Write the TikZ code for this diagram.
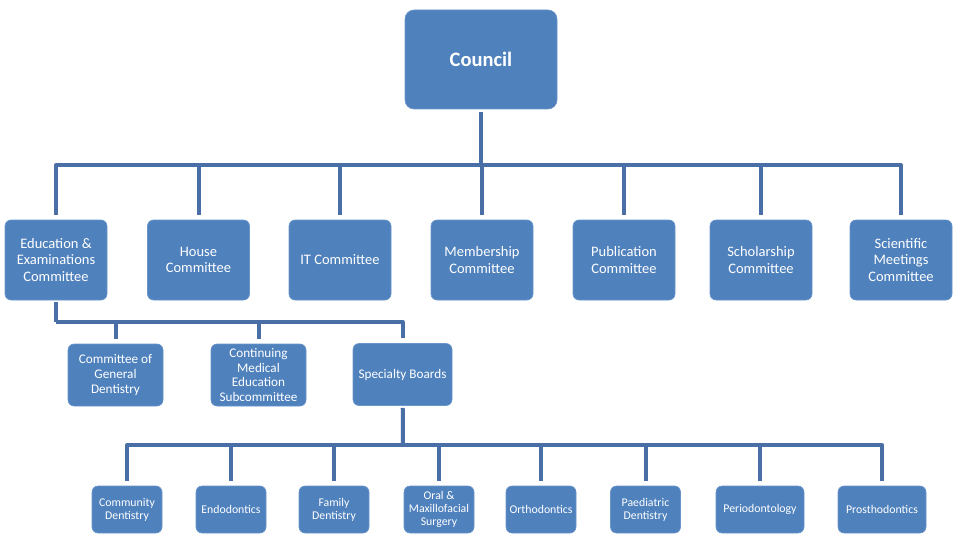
\documentclass[tikz,border=0pt]{standalone}
\usepackage{fontspec}
\setmainfont{Carlito}
\usetikzlibrary{positioning, calc}

\definecolor{boxblue}{HTML}{4F81BD}
\definecolor{boxedge}{HTML}{6A95C9}
\definecolor{lineblue}{HTML}{4A6FA6}

\begin{document}
\begin{tikzpicture}[x=1pt, y=-1pt,
    box/.style={rectangle, rounded corners=6pt, fill=boxblue, draw=boxedge, line width=0.6pt,
      text=white, align=center, inner sep=0pt},
    top/.style={box, minimum width=152pt, minimum height=99pt, rounded corners=9pt,
      font=\fontsize{20.5}{23}\selectfont\bfseries},
    mid/.style={box, minimum width=102pt, minimum height=80pt, font=\fontsize{14.5}{16.6}\selectfont},
    sub/.style={box, minimum width=95pt, minimum height=62pt, font=\fontsize{13.2}{14.7}\selectfont},
    leaf/.style={box, minimum width=70pt, minimum height=47pt, font=\fontsize{11.8}{13.2}\selectfont},
    link/.style={draw=lineblue, line width=4pt, line join=round, shorten >=5pt}]
  \useasboundingbox (0,0) rectangle (960,548);

  \node[top] (council) at (481,59.5) {Council};

  \node[mid] (edu) at (56,260) {Education \&\\Examinations\\Committee};
  \node[mid] (house) at (198.5,260) {House\\Committee};
  \node[mid] (it) at (340,260) {IT Committee};
  \node[mid] (member) at (482,260) {Membership\\Committee};
  \node[mid] (publ) at (624,260) {Publication\\Committee};
  \node[mid] (schol) at (761,260) {Scholarship\\Committee};
  \node[mid] (sci) at (901,260) {Scientific\\Meetings\\Committee};

  \node[sub] (general) at (115.5,375) {Committee of\\General\\Dentistry};
  \node[sub] (cme) at (258.5,375) {Continuing\\Medical\\Education\\Subcommittee};
  \node[sub, minimum width=99pt] (boards) at (402.5,374.5) {Specialty Boards};

  \node[leaf] (community) at (127,509.5) {Community\\Dentistry};
  \node[leaf] (endo) at (231,509.5) {Endodontics};
  \node[leaf] (family) at (334,509.5) {Family\\Dentistry};
  \node[leaf] (oral) at (439,509.5) {Oral \&\\Maxillofacial\\Surgery};
  \node[leaf] (ortho) at (541,509.5) {Orthodontics};
  \node[leaf] (paed) at (645.5,509.5) {Paediatric\\Dentistry};
  \node[leaf, minimum width=88pt] (perio) at (760,509.5) {Periodontology};
  \node[leaf, minimum width=88pt] (prostho) at (882,509.5) {Prosthodontics};

  \coordinate (bar1) at (481,165);
  \coordinate (bar2) at (56,322);
  \coordinate (bar3) at (403,445);

  \path[link, shorten >=0pt, shorten <=3pt] (council) -- (bar1);
  \foreach \n in {edu, house, it, member, publ, schol, sci}
    \path[link] (bar1) -| (\n.north);

  \path[link, shorten >=0pt, shorten <=2pt] (edu) -- (bar2);
  \foreach \n in {general, cme, boards}
    \path[link] (bar2) -| (\n.north);

  \path[link, shorten >=0pt, shorten <=2pt] (boards) -- (bar3);
  \foreach \n in {community, endo, family, oral, ortho, paed, perio, prostho}
    \path[link] (bar3) -| (\n.north);
\end{tikzpicture}
\end{document}
